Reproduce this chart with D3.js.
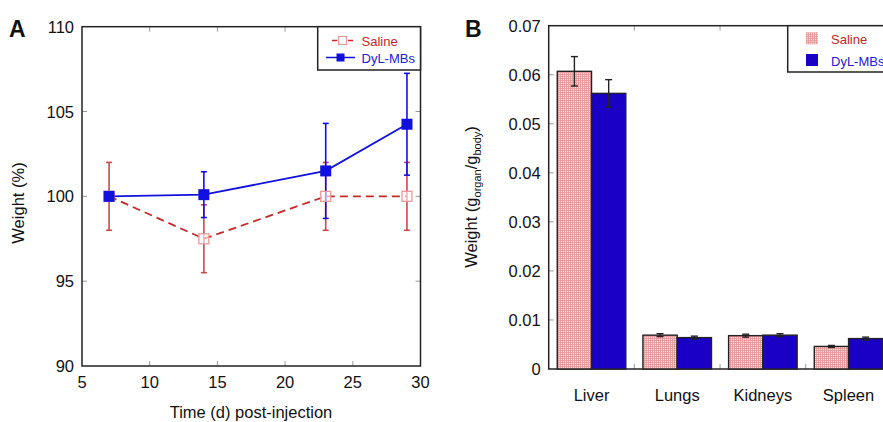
<!DOCTYPE html>
<html><head><meta charset="utf-8">
<script src="https://d3js.org/d3.v7.min.js"></script>
<style>body{margin:0;background:#fff;} svg{display:block;font-family:"Liberation Sans",Arial,sans-serif;}</style>
</head><body>
<svg id="c" width="883" height="422"></svg>
<script>
// Panel A data
const days = [7, 14, 23, 29];
const salineWeight = [100, 97.5, 100, 100];
const salineErr = [2, 2, 2, 2];
const dylWeight = [100, 100.1, 101.5, 104.25];
const dylErr = [0, 1.35, 2.8, 3];
const xTicksA = [5, 10, 15, 20, 25, 30];
const yTicksA = [90, 95, 100, 105, 110];

// Panel B data
const organs = ["Liver", "Lungs", "Kidneys", "Spleen"];
const salineOrgan = [0.0607, 0.0069, 0.0068, 0.0046];
const salineOrganErr = [0.003, 0.0003, 0.0003, 0.0002];
const dylOrgan = [0.0562, 0.0064, 0.0069, 0.0062];
const dylOrganErr = [0.0028, 0.0003, 0.0003, 0.0003];
const yTicksB = [0, 0.01, 0.02, 0.03, 0.04, 0.05, 0.06, 0.07];

const svg = d3.select("#c");
const defs = svg.append("defs");
const pat = defs.append("pattern").attr("id", "grid").attr("patternUnits", "userSpaceOnUse")
  .attr("width", 2).attr("height", 2);
pat.append("rect").attr("width", 2).attr("height", 2).attr("fill", "#f8e2e2");
pat.append("rect").attr("width", 0.8).attr("height", 2).attr("fill", "#e59595");
pat.append("rect").attr("width", 2).attr("height", 0.8).attr("fill", "#e59595");

const tickFont = 16.5;
const redLine = "#c62828", redErr = "#c94a4a", redMarker = "#e79a9a";
const blue = "#1111dd";

// ---------- Panel A ----------
const xA = d3.scaleLinear().domain([5, 30]).range([82, 420.5]);
const yA = d3.scaleLinear().domain([90, 110]).range([366, 26.7]);
const gA = svg.append("g");

const tickLen = 5;
xTicksA.slice(1, -1).forEach(t => {
  gA.append("line").attr("x1", xA(t)).attr("x2", xA(t)).attr("y1", yA(90)).attr("y2", yA(90) - tickLen).attr("stroke", "#999").attr("stroke-width", 1);
  gA.append("line").attr("x1", xA(t)).attr("x2", xA(t)).attr("y1", yA(110)).attr("y2", yA(110) + tickLen).attr("stroke", "#999").attr("stroke-width", 1);
});
yTicksA.slice(1, -1).forEach(t => {
  gA.append("line").attr("x1", xA(5)).attr("x2", xA(5) + tickLen).attr("y1", yA(t)).attr("y2", yA(t)).attr("stroke", "#999");
  gA.append("line").attr("x1", xA(30)).attr("x2", xA(30) - tickLen).attr("y1", yA(t)).attr("y2", yA(t)).attr("stroke", "#999");
});
gA.append("rect").attr("x", xA(5)).attr("y", yA(110)).attr("width", xA(30) - xA(5)).attr("height", yA(90) - yA(110))
  .attr("fill", "none").attr("stroke", "#222").attr("stroke-width", 1.5);

xTicksA.forEach(t => gA.append("text").attr("x", xA(t)).attr("y", yA(90) + 22).attr("text-anchor", "middle")
  .attr("font-size", tickFont).attr("fill", "#111").text(t));
yTicksA.forEach(t => gA.append("text").attr("x", xA(5) - 8).attr("y", yA(t) + 6).attr("text-anchor", "end")
  .attr("font-size", tickFont).attr("fill", "#111").text(t));

gA.append("text").attr("x", 251).attr("y", 418).attr("text-anchor", "middle").attr("font-size", 16.5).attr("fill", "#111").text("Time (d) post-injection");
gA.append("text").attr("transform", "translate(24,203) rotate(-90)").attr("text-anchor", "middle").attr("font-size", 16.5).attr("fill", "#111").text("Weight (%)");
gA.append("text").attr("x", 9).attr("y", 37).attr("font-size", 23).attr("font-weight", "bold").attr("fill", "#111").text("A");

function errBars(g, xs, ys, es, xS, yS, color, cap) {
  xs.forEach((x, i) => {
    if (es[i] <= 0) return;
    const px = xS(x);
    g.append("line").attr("x1", px).attr("x2", px).attr("y1", yS(ys[i] - es[i])).attr("y2", yS(ys[i] + es[i])).attr("stroke", color).attr("stroke-width", 1.6);
    [ys[i] - es[i], ys[i] + es[i]].forEach(v => g.append("line").attr("x1", px - cap).attr("x2", px + cap).attr("y1", yS(v)).attr("y2", yS(v)).attr("stroke", color).attr("stroke-width", 1.6));
  });
}
errBars(gA, days, salineWeight, salineErr, xA, yA, redErr, 3);
errBars(gA, days, dylWeight, dylErr, xA, yA, blue, 3);

const lineA = d3.line().x(d => xA(d[0])).y(d => yA(d[1]));
gA.append("path").attr("d", lineA(days.map((d, i) => [d, salineWeight[i]]))).attr("fill", "none")
  .attr("stroke", redLine).attr("stroke-width", 1.8).attr("stroke-dasharray", "8,5");
gA.append("path").attr("d", lineA(days.map((d, i) => [d, dylWeight[i]]))).attr("fill", "none")
  .attr("stroke", blue).attr("stroke-width", 1.8);
days.forEach((d, i) => {
  gA.append("rect").attr("x", xA(d) - 5).attr("y", yA(salineWeight[i]) - 5).attr("width", 10).attr("height", 10)
    .attr("fill", "#fff").attr("fill-opacity", 0.6).attr("stroke", redMarker).attr("stroke-width", 1.3);
});
days.forEach((d, i) => {
  gA.append("rect").attr("x", xA(d) - 5.5).attr("y", yA(dylWeight[i]) - 5.5).attr("width", 11).attr("height", 11).attr("fill", blue);
});

// legend A
const lgA = gA.append("g");
lgA.append("rect").attr("x", 317.7).attr("y", 26.7).attr("width", 420.5 - 317.7).attr("height", 43.3).attr("fill", "#fff").attr("stroke", "#222").attr("stroke-width", 1.5);
lgA.append("line").attr("x1", 332).attr("x2", 353).attr("y1", 40.5).attr("y2", 40.5).attr("stroke", redLine).attr("stroke-width", 1.5).attr("stroke-dasharray", "5,3");
lgA.append("rect").attr("x", 338.5).attr("y", 36.5).attr("width", 8).attr("height", 8).attr("fill", "#fff").attr("stroke", redMarker).attr("stroke-width", 1.2);
lgA.append("text").attr("x", 361.5).attr("y", 45.5).attr("font-size", 13).attr("fill", "#c0282a").text("Saline");
lgA.append("line").attr("x1", 326).attr("x2", 355).attr("y1", 57.5).attr("y2", 57.5).attr("stroke", blue).attr("stroke-width", 1.5);
lgA.append("rect").attr("x", 336.5).attr("y", 53.5).attr("width", 8).attr("height", 8).attr("fill", blue);
lgA.append("text").attr("x", 361.5).attr("y", 62.5).attr("font-size", 13).attr("fill", "#2222cc").text("DyL-MBs");

// ---------- Panel B ----------
const x0 = 548.7, step = 85.67;
const xB = d3.scaleBand().domain(organs).range([x0, x0 + step * organs.length]).paddingInner(0.2).paddingOuter(0.1);
const xSub = d3.scaleBand().domain(["saline", "dyl"]).range([0, xB.bandwidth()]);
const yB = d3.scaleLinear().domain([0, 0.07]).range([369, 25.7]);
const gB = svg.append("g");
const rightB = x0 + step * organs.length;

organs.slice(0, -1).forEach((o, i) => {
  const px = x0 + step * (i + 1);
  gB.append("line").attr("x1", px).attr("x2", px).attr("y1", yB(0)).attr("y2", yB(0) - tickLen).attr("stroke", "#999");
  gB.append("line").attr("x1", px).attr("x2", px).attr("y1", yB(0.07)).attr("y2", yB(0.07) + tickLen).attr("stroke", "#999");
});
yTicksB.slice(1, -1).forEach(t => {
  gB.append("line").attr("x1", x0).attr("x2", x0 + tickLen).attr("y1", yB(t)).attr("y2", yB(t)).attr("stroke", "#999");
});
gB.append("rect").attr("x", x0).attr("y", yB(0.07)).attr("width", rightB - x0).attr("height", yB(0) - yB(0.07))
  .attr("fill", "none").attr("stroke", "#222").attr("stroke-width", 1.5);

yTicksB.forEach(t => gB.append("text").attr("x", x0 - 8).attr("y", yB(t) + 6).attr("text-anchor", "end")
  .attr("font-size", tickFont).attr("fill", "#111").text(t === 0 ? "0" : d3.format(".2f")(t)));
organs.forEach(o => gB.append("text").attr("x", xB(o) + xB.bandwidth() / 2).attr("y", 401).attr("text-anchor", "middle")
  .attr("font-size", tickFont).attr("fill", "#111").text(o));

const yl = gB.append("text").attr("transform", "translate(477,197) rotate(-90)").attr("text-anchor", "middle").attr("font-size", 16.5).attr("fill", "#111");
yl.append("tspan").text("Weight (g");
yl.append("tspan").attr("font-size", 11).attr("dy", 4).text("organ");
yl.append("tspan").attr("dy", -4).text("/g");
yl.append("tspan").attr("font-size", 11).attr("dy", 4).text("body");
yl.append("tspan").attr("dy", -4).text(")");
gB.append("text").attr("x", 465).attr("y", 37).attr("font-size", 23).attr("font-weight", "bold").attr("fill", "#111").text("B");

function bars(vals, key, fill) {
  organs.forEach((o, i) => {
    const bx = xB(o) + xSub(key);
    gB.append("rect").attr("x", bx).attr("y", yB(vals[i])).attr("width", xSub.bandwidth()).attr("height", yB(0) - yB(vals[i]))
      .attr("fill", fill).attr("stroke", "#222").attr("stroke-width", 1.4);
  });
}
bars(salineOrgan, "saline", "url(#grid)");
bars(dylOrgan, "dyl", "#1a00c4");
function barErr(vals, errs, key) {
  organs.forEach((o, i) => {
    const cx = xB(o) + xSub(key) + xSub.bandwidth() / 2;
    gB.append("line").attr("x1", cx).attr("x2", cx).attr("y1", yB(vals[i] - errs[i])).attr("y2", yB(vals[i] + errs[i])).attr("stroke", "#222").attr("stroke-width", 1.4);
    [vals[i] - errs[i], vals[i] + errs[i]].forEach(v => gB.append("line").attr("x1", cx - 3.5).attr("x2", cx + 3.5).attr("y1", yB(v)).attr("y2", yB(v)).attr("stroke", "#222").attr("stroke-width", 1.4));
  });
}
barErr(salineOrgan, salineOrganErr, "saline");
barErr(dylOrgan, dylOrganErr, "dyl");

// legend B
const lgB = gB.append("g");
lgB.append("rect").attr("x", 787.7).attr("y", 25.7).attr("width", 120).attr("height", 46.3).attr("fill", "#fff").attr("stroke", "#222").attr("stroke-width", 1.5);
lgB.append("rect").attr("x", 806).attr("y", 32.3).attr("width", 12).attr("height", 12).attr("fill", "url(#grid)");
lgB.append("text").attr("x", 831).attr("y", 44).attr("font-size", 13).attr("fill", "#c0282a").text("Saline");
lgB.append("rect").attr("x", 806).attr("y", 54).attr("width", 12).attr("height", 12).attr("fill", "#1a00c4");
lgB.append("text").attr("x", 831).attr("y", 66).attr("font-size", 13).attr("fill", "#2222cc").text("DyL-MBs");
</script>
</body></html>
